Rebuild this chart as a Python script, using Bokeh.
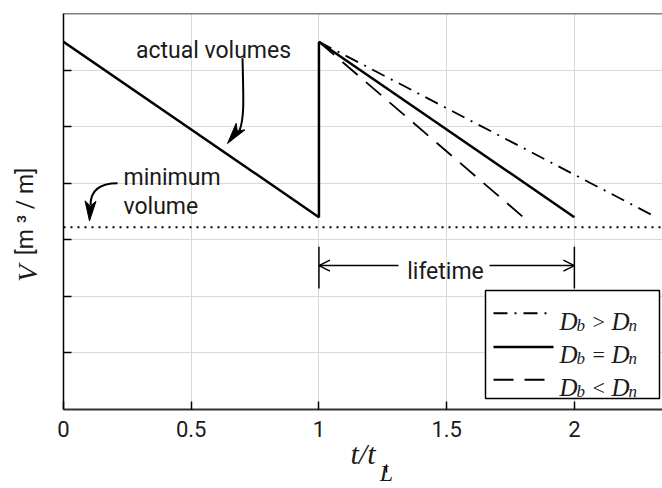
import math
from bokeh.plotting import figure
from bokeh.models import Range1d, FixedTicker, Span, Label, Arrow, OpenHead, LinearAxis
from bokeh.embed import file_html
from bokeh.resources import INLINE

# ---------------- data ----------------
t_actual = [0.0, 1.0, 1.0]
V_actual = [6.5, 3.4, 6.5]
t_equal = [1.0, 2.0]
V_equal = [6.5, 3.4]
t_greater = [1.0, 2.32]
V_greater = [6.5, 3.4]
t_less = [1.0, 1.8]
V_less = [6.5, 3.4]
V_min = 3.22
t_lifetime = [1.0, 2.0]
x_ticks = [0, 0.5, 1, 1.5, 2]
x_tick_labels = ["0", "0.5", "1", "1.5", "2"]
y_ticks = [1, 2, 3, 4, 5, 6]
legend_relations = [">", "=", "<"]
X_MAX = 2.345
Y_MAX = 7.0

# ---------------- layout ----------------
W, H = 662, 488
BL, BR, BT, BB = 63, 0, 13, 76
FL = BL
FR = W - BR
FT = BT
FB = H - BB


def dx(px):
    return (px - FL) / (FR - FL) * X_MAX


def dy(py):
    return (FB - py) / (FB - FT) * Y_MAX


SANS = "Roboto"
SERIF = "Liberation Serif"
INK = "#1a1a1a"

p = figure(width=W, height=H, x_range=Range1d(0, X_MAX), y_range=Range1d(0, Y_MAX),
           output_backend="svg", toolbar_location=None,
           min_border_left=BL, min_border_right=BR, min_border_top=BT, min_border_bottom=BB)
p.outline_line_color = None
p.background_fill_color = "white"
p.border_fill_color = "white"

# x axis with "t/t" title
p.xaxis.ticker = FixedTicker(ticks=x_ticks)
p.xaxis.major_label_overrides = {t: l for t, l in zip(x_ticks, x_tick_labels)}
p.xaxis.major_label_text_font = SANS
p.xaxis.major_label_text_font_size = "22px"
p.xaxis.major_label_text_color = INK
p.xaxis.major_label_standoff = 11
p.xaxis.axis_line_width = 2
p.xaxis.axis_line_color = "#333333"
p.xaxis.axis_label = "t/t"
p.xaxis.axis_label_text_font = SERIF
p.xaxis.axis_label_text_font_style = "italic"
p.xaxis.axis_label_text_font_size = "30px"
p.xaxis.axis_label_text_color = INK
p.xaxis.axis_label_standoff = -3

# subscript "L" of the x title, as a second (line-less) axis below
x_sub = round(dx(386), 4)
sub_axis = LinearAxis(ticker=FixedTicker(ticks=[x_sub]), major_label_overrides={x_sub: "L"},
                      axis_line_color=None, major_tick_line_color=None,
                      minor_tick_line_color=None, major_label_standoff=-13,
                      major_label_text_font=SERIF, major_label_text_font_style="italic",
                      major_label_text_font_size="24px", major_label_text_color=INK)
p.add_layout(sub_axis, "below")

# y axis: inner minor ticks at grid lines, "V" as lone tick label, unit as axis label
y_V = round(dy(275), 4)
p.yaxis.ticker = FixedTicker(ticks=[y_V], minor_ticks=y_ticks)
p.yaxis.major_label_overrides = {y_V: "V"}
p.yaxis.major_label_orientation = "vertical"
p.yaxis.major_label_text_font = SERIF
p.yaxis.major_label_text_font_style = "italic"
p.yaxis.major_label_text_font_size = "28px"
p.yaxis.major_label_text_color = INK
p.yaxis.major_label_standoff = 20
p.yaxis.major_tick_in = 0
p.yaxis.major_tick_out = 0
p.yaxis.minor_tick_in = 8
p.yaxis.minor_tick_out = 0
p.yaxis.minor_tick_line_width = 1.5
p.yaxis.minor_tick_line_color = "black"
p.yaxis.axis_line_width = 1.5
p.yaxis.axis_line_color = "black"
p.yaxis.axis_label = "[m \u00b3 / m]"
p.yaxis.axis_label_text_font = SANS
p.yaxis.axis_label_text_font_style = "normal"
p.yaxis.axis_label_text_font_size = "23px"
p.yaxis.axis_label_text_color = INK
p.yaxis.axis_label_standoff = -29

p.xaxis.major_tick_in = 8
p.xaxis.major_tick_out = 0
p.xaxis.major_tick_line_width = 1.5
p.xaxis.major_tick_line_color = "black"
p.xaxis.minor_tick_line_color = None

p.xgrid.ticker = FixedTicker(ticks=x_ticks[1:])
p.ygrid.ticker = FixedTicker(ticks=y_ticks)
p.grid.grid_line_color = "#d9d9d9"
p.grid.grid_line_width = 1

# top frame line
p.add_layout(Span(location=Y_MAX, dimension="width", line_color="black", line_width=1.5))

# minimum volume
p.add_layout(Span(location=V_min, dimension="width", line_color="black",
                  line_width=2, line_dash="2 5"))

# data lines
DASHDOT = "14 7 2 7"
DASHED = "20 11"
p.line(t_actual, V_actual, line_color="black", line_width=2.5)
p.line(t_equal, V_equal, line_color="black", line_width=2.5)
p.line(t_greater, V_greater, line_color="black", line_width=1.8, line_dash=DASHDOT)
p.line(t_less, V_less, line_color="black", line_width=1.8, line_dash=DASHED)


# ---------------- annotations ----------------
def head(tip, base, width, notch=0.25):
    tx, ty = tip
    bx, by = base
    vx, vy = tx - bx, ty - by
    L = math.hypot(vx, vy)
    nx, ny = -vy / L, vx / L
    mx, my = bx + vx * notch, by + vy * notch
    pts = [(tx, ty), (bx + nx * width / 2, by + ny * width / 2), (mx, my),
           (bx - nx * width / 2, by - ny * width / 2)]
    return [dx(a) for a, _ in pts], [dy(b) for _, b in pts]


# curved arrows
p.bezier(x0=[dx(242), dx(117)], y0=[dy(58), dy(184)],
         x1=[dx(239), dx(90)], y1=[dy(131), dy(206)],
         cx0=[dx(243), dx(99)], cy0=[dy(100), dy(184)],
         cx1=[dx(244), dx(90)], cy1=[dy(118), dy(192)],
         line_color="black", line_width=2)
h1 = head((227, 144), (240, 127), 11)
h2 = head((89, 222), (90, 202), 11)
p.patches([h1[0], h2[0]], [h1[1], h2[1]], fill_color="black", line_color="black", line_width=1)

# lifetime markers
p.segment(x0=t_lifetime, y0=[dy(248)] * 2, x1=t_lifetime, y1=[dy(290)] * 2,
          line_color="black", line_width=1.5)
p.add_layout(Arrow(end=OpenHead(size=11, line_width=1.5, line_color="black"),
                   x_start=dx(398), y_start=dy(267), x_end=t_lifetime[0], y_end=dy(267),
                   line_width=1.5, line_color="black"))
p.add_layout(Arrow(end=OpenHead(size=11, line_width=1.5, line_color="black"),
                   x_start=dx(489), y_start=dy(267), x_end=t_lifetime[1], y_end=dy(267),
                   line_width=1.5, line_color="black"))

# legend box + samples
p.quad(left=[dx(485)], right=[dx(659)], top=[dy(292)], bottom=[dy(401)],
       fill_color="white", line_color="black", line_width=1.5)
rows = [315, 349, 382]
styles = [(DASHDOT, 1.8), (None, 2.5), (DASHED, 1.8)]
for ry, (dash, lw) in zip(rows, styles):
    kw = dict(line_dash=dash) if dash else {}
    p.line([dx(493), dx(553)], [dy(ry), dy(ry)], line_color="black", line_width=lw, **kw)


def lab(text, x, y, font=SANS, size="23px", style="normal", align="left"):
    p.add_layout(Label(x=dx(x), y=dy(y), text=text, text_font=font, text_font_size=size,
                       text_font_style=style, text_align=align, text_baseline="alphabetic",
                       text_color=INK))


lab("actual volumes", 213, 50, align="center")
lab("minimum", 123, 178)
lab("volume", 123, 207)
lab("lifetime", 445, 273, align="center")

# legend texts
bases = [323, 357, 390]
for rb, rel in zip(bases, legend_relations):
    lab("D", 559, rb, font=SERIF, size="25px", style="italic")
    lab("b", 576, rb + 4, font=SERIF, size="17px", style="italic")
    lab(rel, 592, rb, font=SERIF, size="22px")
    lab("D", 611, rb, font=SERIF, size="25px", style="italic")
    lab("n", 628, rb + 4, font=SERIF, size="17px", style="italic")

open("out.html", "w").write(file_html(p, INLINE))
